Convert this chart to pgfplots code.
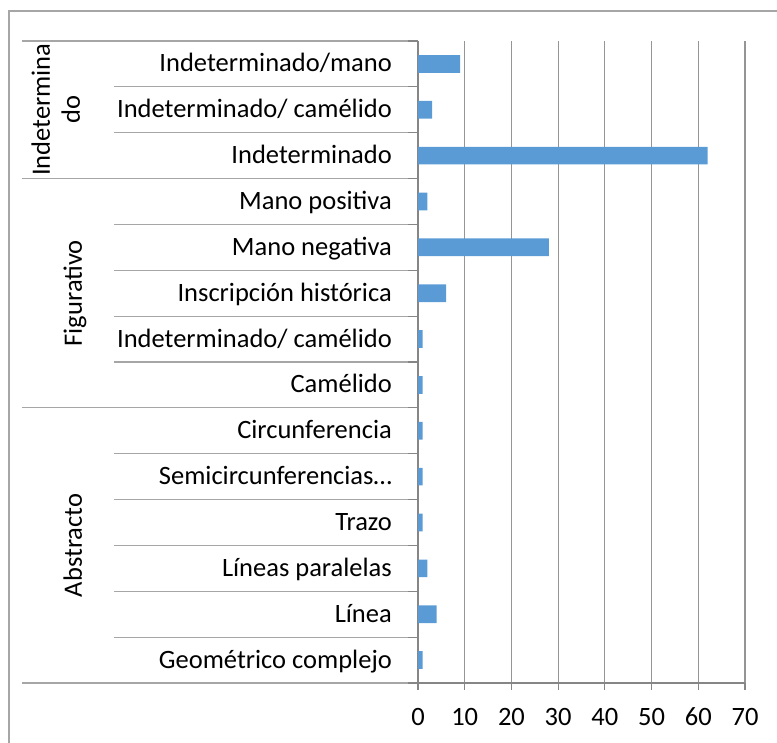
\documentclass[border=0pt]{standalone}
\usepackage{fontspec}
\setmainfont{Carlito}
\usepackage{pgfplots}
\pgfplotsset{compat=1.18}
\usetikzlibrary{calc}
\definecolor{barblue}{HTML}{5B9BD5}
\definecolor{gridc}{HTML}{959595}
\definecolor{sepc}{HTML}{A6A6A6}
\definecolor{axc}{HTML}{868686}
\newcommand{\lf}{\fontsize{26.5bp}{30bp}\selectfont}
\begin{document}
\begin{tikzpicture}[x=1bp,y=1bp]
\useasboundingbox (0,0) rectangle (777,743);
\draw[sepc, line width=1.5bp] (9,0) -- (9,732) -- (777,732);
\begin{axis}[
 at={(418bp,60bp)}, anchor=south west, width=327bp, height=642bp, scale only axis,
 clip=false,
 xbar, bar width=17.7bp,
 xmin=0, xmax=70, ymin=-0.5, ymax=13.5,
 xtick={0,10,...,70}, ytick={0,...,13},
 yticklabels={Geométrico complejo, Línea, Líneas paralelas, Trazo, Semicircunferencias…, Circunferencia, Camélido, Indeterminado/ camélido, Inscripción histórica, Mano negativa, Mano positiva, Indeterminado, Indeterminado/ camélido, Indeterminado/mano},
 axis x line*=bottom, axis y line*=left,
 axis line style={axc, line width=1.2bp, -},
 xmajorgrids, major grid style={gridc, line width=1.2bp},
 tick align=outside,
 xtick style={axc, line width=1.2bp}, major tick length=7bp,
 ytick style={draw=none},
 /pgf/number format/assume math mode=true,
 yticklabel style={font=\lf, anchor=base east, inner sep=0pt, xshift=-19bp, yshift=-8bp},
 xticklabel style={font=\lf, anchor=base, inner sep=0pt, yshift=-36bp},
]
\addplot[fill=barblue, draw=none] coordinates {
 (1,0) (4,1) (2,2) (1,3) (1,4) (1,5) (1,6) (1,7) (6,8) (28,9) (2,10) (62,11) (3,12) (9,13)};
\pgfplotsinvokeforeach{0.5,1.5,2.5,3.5,4.5,6.5,7.5,8.5,9.5,11.5,12.5}{
 \draw[sepc, line width=1.2bp] ($(axis cs:0,#1)+(-304bp,0bp)$) -- (axis cs:0,#1);
}
\pgfplotsinvokeforeach{-0.5,5.5,10.5,13.5}{
 \draw[sepc, line width=1.2bp] ($(axis cs:0,#1)+(-396bp,0bp)$) -- (axis cs:0,#1);
}
\pgfplotsinvokeforeach{-0.5,0.5,...,13.5}{
 \draw[axc, line width=1.2bp] ($(axis cs:0,#1)+(-10bp,0bp)$) -- (axis cs:0,#1);
}
\node[rotate=90, anchor=base, font=\lf, inner sep=0pt] at ($(axis cs:0,2.5)+(-336bp,0bp)$) {Abstracto};
\node[rotate=90, anchor=base, font=\lf, inner sep=0pt] at ($(axis cs:0,8)+(-336bp,0bp)$) {Figurativo};
\node[rotate=90, anchor=base, font=\lf, inner sep=0pt] at ($(axis cs:0,12)+(-368bp,0bp)$) {Indetermina};
\node[rotate=90, anchor=base, font=\lf, inner sep=0pt] at ($(axis cs:0,12)+(-338bp,0bp)$) {do};
\end{axis}
\end{tikzpicture}
\end{document}
